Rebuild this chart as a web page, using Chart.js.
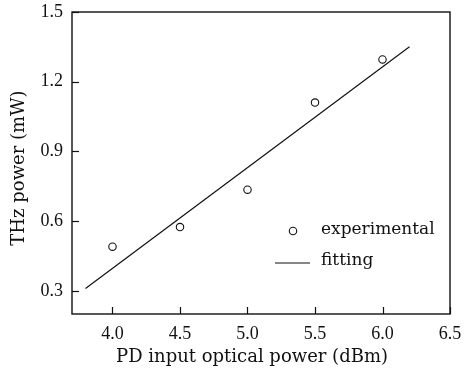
<!DOCTYPE html>
<html><head><meta charset="utf-8">
<script src="https://cdn.jsdelivr.net/npm/chart.js@4"></script>
<style>html,body{margin:0;padding:0;background:#fff}#wrap{width:465px;height:368px}</style>
</head><body><div id="wrap"><canvas id="c" width="465" height="368"></canvas></div>
<script>
const expX = [4.0, 4.5, 5.0, 5.5, 6.0];
const expY = [0.49, 0.574, 0.735, 1.11, 1.296];
const fitX = [3.8, 6.2];
const fitY = [0.31, 1.35];
const xTicks = [4.0, 4.5, 5.0, 5.5, 6.0, 6.5];
const yTicks = [0.3, 0.6, 0.9, 1.2, 1.5];
const labels = ['experimental', 'fitting'];
const xTitle = 'PD input optical power (dBm)';
const yTitle = 'THz power (mW)';
const TFONT = '"Liberation Serif", serif';
const FONT = '"DejaVu Serif", "Liberation Serif", serif';

const framePlugin = {
  id: 'frame',
  afterDraw(chart) {
    const {ctx, chartArea: a, scales} = chart;
    ctx.save();
    ctx.strokeStyle = '#111';
    ctx.lineWidth = 1.4;
    ctx.strokeRect(a.left, a.top, a.right - a.left, a.bottom - a.top);
    ctx.lineWidth = 1.2;
    xTicks.forEach(v => {
      const px = Math.round(scales.x.getPixelForValue(v)) + 0.5;
      ctx.beginPath(); ctx.moveTo(px, a.bottom); ctx.lineTo(px, a.bottom - 7); ctx.stroke();
    });
    yTicks.forEach(v => {
      const py = Math.round(scales.y.getPixelForValue(v)) + 0.5;
      ctx.beginPath(); ctx.moveTo(a.left, py); ctx.lineTo(a.left + 7, py); ctx.stroke();
    });
    // legend
    const lx = a.left + 221, ly = a.top + 219;
    ctx.lineWidth = 1.1;
    ctx.beginPath(); ctx.arc(lx, ly, 3.7, 0, Math.PI * 2); ctx.stroke();
    ctx.beginPath(); ctx.moveTo(a.left + 203, ly + 32); ctx.lineTo(a.left + 238, ly + 32); ctx.stroke();
    ctx.fillStyle = '#111';
    ctx.font = '17px ' + FONT;
    ctx.textBaseline = 'middle';
    ctx.textAlign = 'left';
    ctx.fillText(labels[0], a.left + 249, ly - 1);
    ctx.fillText(labels[1], a.left + 249, ly + 30);
    // axis titles
    ctx.font = '18px ' + FONT;
    ctx.textAlign = 'center';
    ctx.textBaseline = 'alphabetic';
    ctx.fillText(xTitle, 252, 362);
    ctx.translate(19, 168);
    ctx.rotate(-Math.PI / 2);
    ctx.textBaseline = 'middle';
    ctx.fillText(yTitle, 0, 0);
    ctx.restore();
  }
};

new Chart(document.getElementById('c'), {
  type: 'scatter',
  data: {
    datasets: [
      {
        label: labels[0],
        data: expX.map((x, i) => ({x, y: expY[i]})),
        showLine: false,
        pointStyle: 'circle',
        pointRadius: 3.7,
        pointBorderWidth: 1.1,
        borderColor: '#111',
        backgroundColor: 'rgba(0,0,0,0)'
      },
      {
        label: labels[1],
        data: fitX.map((x, i) => ({x, y: fitY[i]})),
        showLine: true,
        pointRadius: 0,
        borderColor: '#111',
        borderWidth: 1.2,
        fill: false
      }
    ]
  },
  options: {
    responsive: false,
    animation: false,
    devicePixelRatio: 1,
    layout: {padding: {left: 0, top: 12, right: 15, bottom: 0}},
    plugins: {legend: {display: false}, tooltip: {enabled: false}},
    scales: {
      x: {
        type: 'linear', min: 3.7, max: 6.5,
        afterBuildTicks: s => { s.ticks = xTicks.map(v => ({value: v})); },
        afterFit: s => { s.height = 54; s.paddingRight = 0; s.paddingLeft = 0; },
        grid: {display: false, drawTicks: false},
        border: {display: false},
        ticks: {color: '#111', padding: 9, font: {family: TFONT, size: 18}, callback: v => v.toFixed(1), maxRotation: 0},
        title: {display: false}
      },
      y: {
        type: 'linear', min: 0.2, max: 1.5,
        afterBuildTicks: s => { s.ticks = yTicks.map(v => ({value: v})); },
        afterFit: s => { s.width = 72; s.paddingTop = 0; s.paddingBottom = 0; },
        grid: {display: false, drawTicks: false},
        border: {display: false},
        ticks: {color: '#111', padding: 9, font: {family: TFONT, size: 18}, callback: v => v.toFixed(1)},
        title: {display: false}
      }
    }
  },
  plugins: [framePlugin]
});
</script></body></html>
